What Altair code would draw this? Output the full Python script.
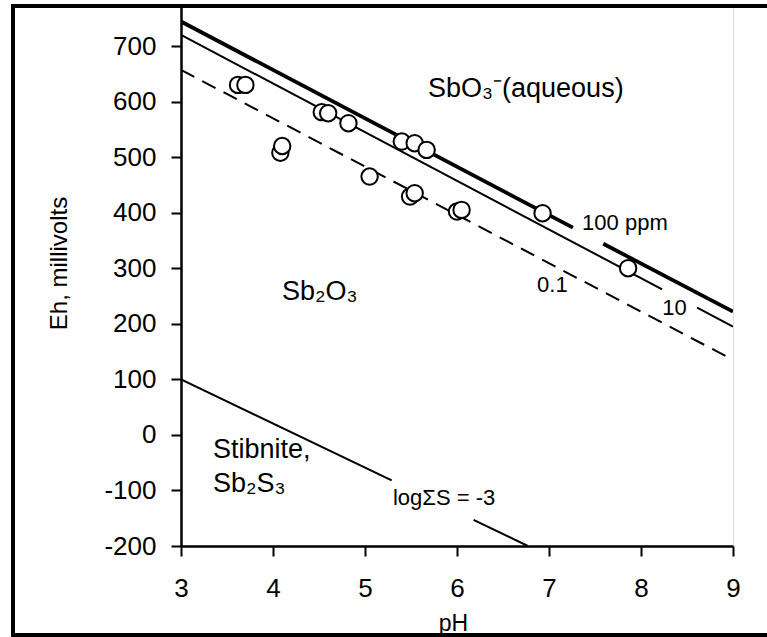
import altair as alt
import pandas as pd

# ---- observed samples (pH, Eh in mV) ----
obs_ph = [3.62, 3.70, 4.08, 4.10, 4.53, 4.60, 4.82, 5.05, 5.40, 5.49, 5.54, 5.54, 5.67, 6.00, 6.05, 6.93, 7.86]
obs_eh = [630, 630, 508, 520, 581, 579, 561, 465, 528, 429, 435, 525, 513, 402, 405, 399, 300]

# ---- stability boundaries (segment endpoints, gaps where labels sit) ----
ppm100_seg = ["a", "a", "b", "b"]
ppm100_ph = [3.0, 7.26, 7.59, 9.0]
ppm100_eh = [744, 373, 344, 222]

ppm10_seg = ["a", "a", "b", "b"]
ppm10_ph = [3.0, 8.23, 8.61, 9.0]
ppm10_eh = [720, 262, 229, 195]

ppm01_seg = ["a", "a"]
ppm01_ph = [3.0, 9.0]
ppm01_eh = [657, 135]

sulf_seg = ["a", "a", "b", "b"]
sulf_ph = [3.0, 5.29, 6.18, 6.77]
sulf_eh = [100, -82, -153, -200]

# ---- annotations ----
lab_text = ["SbO₃⁻(aqueous)", "Sb₂O₃", "Stibnite,", "Sb₂S₃", "logΣS = -3", "100 ppm", "10", "0.1"]
lab_ph = [5.685, 4.098, 3.348, 3.348, 5.304, 7.36, 8.23, 6.87]
lab_eh = [609, 243, -41, -103, -126, 369, 216, 257]
lab_fs = [27, 27, 27, 27, 22, 22, 22, 22]

x_ticks = [3, 4, 5, 6, 7, 8, 9]
y_ticks = [-200, -100, 0, 100, 200, 300, 400, 500, 600, 700]

FONT = "Liberation Sans"
LABEL_EXPR = "datum.value < 0 ? '-' + abs(datum.value) : '' + datum.value"

xscale = alt.Scale(domain=[3, 9], nice=False, zero=False)
yscale = alt.Scale(domain=[-200, 772], nice=False, zero=False)

xaxis = alt.Axis(values=x_ticks, title="pH", grid=False, domainColor="black", domainWidth=2.5,
                 tickColor="black", tickWidth=2, tickSize=10, labelPadding=19,
                 labelExpr=LABEL_EXPR, labelFlush=False,
                 labelFont=FONT, labelFontSize=26, labelColor="black",
                 titleFont=FONT, titleFontSize=23, titleFontWeight="normal", titleColor="black",
                 titleBaseline="alphabetic", titleY=84, titleX=272)
yaxis = alt.Axis(values=y_ticks, title="Eh, millivolts", grid=False, domainColor="black", domainWidth=2.5,
                 tickColor="black", tickWidth=2, tickSize=10, labelPadding=15,
                 labelExpr=LABEL_EXPR, labelFlush=False,
                 labelFont=FONT, labelFontSize=26, labelColor="black",
                 titleFont=FONT, titleFontSize=24, titleFontWeight="normal", titleColor="black",
                 titleAngle=270, titleBaseline="alphabetic", titleAlign="center",
                 titleX=-115, titleY=257)


def seg_df(seg, ph, eh):
    return pd.DataFrame({"seg": seg, "pH": ph, "Eh": eh})


def line_layer(df, width, dash=None):
    kw = dict(color="black", strokeWidth=width, clip=True)
    if dash:
        kw["strokeDash"] = dash
    return alt.Chart(df).mark_line(**kw).encode(
        x=alt.X("pH:Q", scale=xscale, axis=xaxis),
        y=alt.Y("Eh:Q", scale=yscale, axis=yaxis),
        detail="seg:N",
    )


l100 = line_layer(seg_df(ppm100_seg, ppm100_ph, ppm100_eh), 3.8)
l10 = line_layer(seg_df(ppm10_seg, ppm10_ph, ppm10_eh), 2.0)
l01 = line_layer(seg_df(ppm01_seg, ppm01_ph, ppm01_eh), 2.0, [15, 9])
lsul = line_layer(seg_df(sulf_seg, sulf_ph, sulf_eh), 2.0)

pts = alt.Chart(pd.DataFrame({"pH": obs_ph, "Eh": obs_eh})).mark_point(
    shape="circle", filled=True, fill="white", stroke="black", strokeWidth=2, size=270, opacity=1
).encode(
    x=alt.X("pH:Q", scale=xscale),
    y=alt.Y("Eh:Q", scale=yscale),
)

labels = alt.Chart(pd.DataFrame({"t": lab_text, "pH": lab_ph, "Eh": lab_eh, "fs": lab_fs})).mark_text(
    align="left", baseline="alphabetic", font=FONT, color="black"
).encode(
    x=alt.X("pH:Q", scale=xscale),
    y=alt.Y("Eh:Q", scale=yscale),
    text="t:N",
    size=alt.Size("fs:Q", scale=None, legend=None),
)

frame = alt.Chart(pd.DataFrame({"k": [0]})).mark_rect(
    filled=False, stroke="black", strokeWidth=4
).encode(
    x=alt.value(-168), x2=alt.value(640), y=alt.value(0), y2=alt.value(629)
)

chart = alt.layer(l100, l10, l01, lsul, pts, labels, frame).properties(
    width=552, height=540,
    autosize=alt.AutoSizeParams(type="none"),
    padding={"left": 181, "top": 6, "right": 34, "bottom": 91},
).configure_view(
    stroke="black", strokeWidth=2.5
).configure(background="white")

chart.save("out.html", embed_options={"renderer": "svg", "actions": False})
